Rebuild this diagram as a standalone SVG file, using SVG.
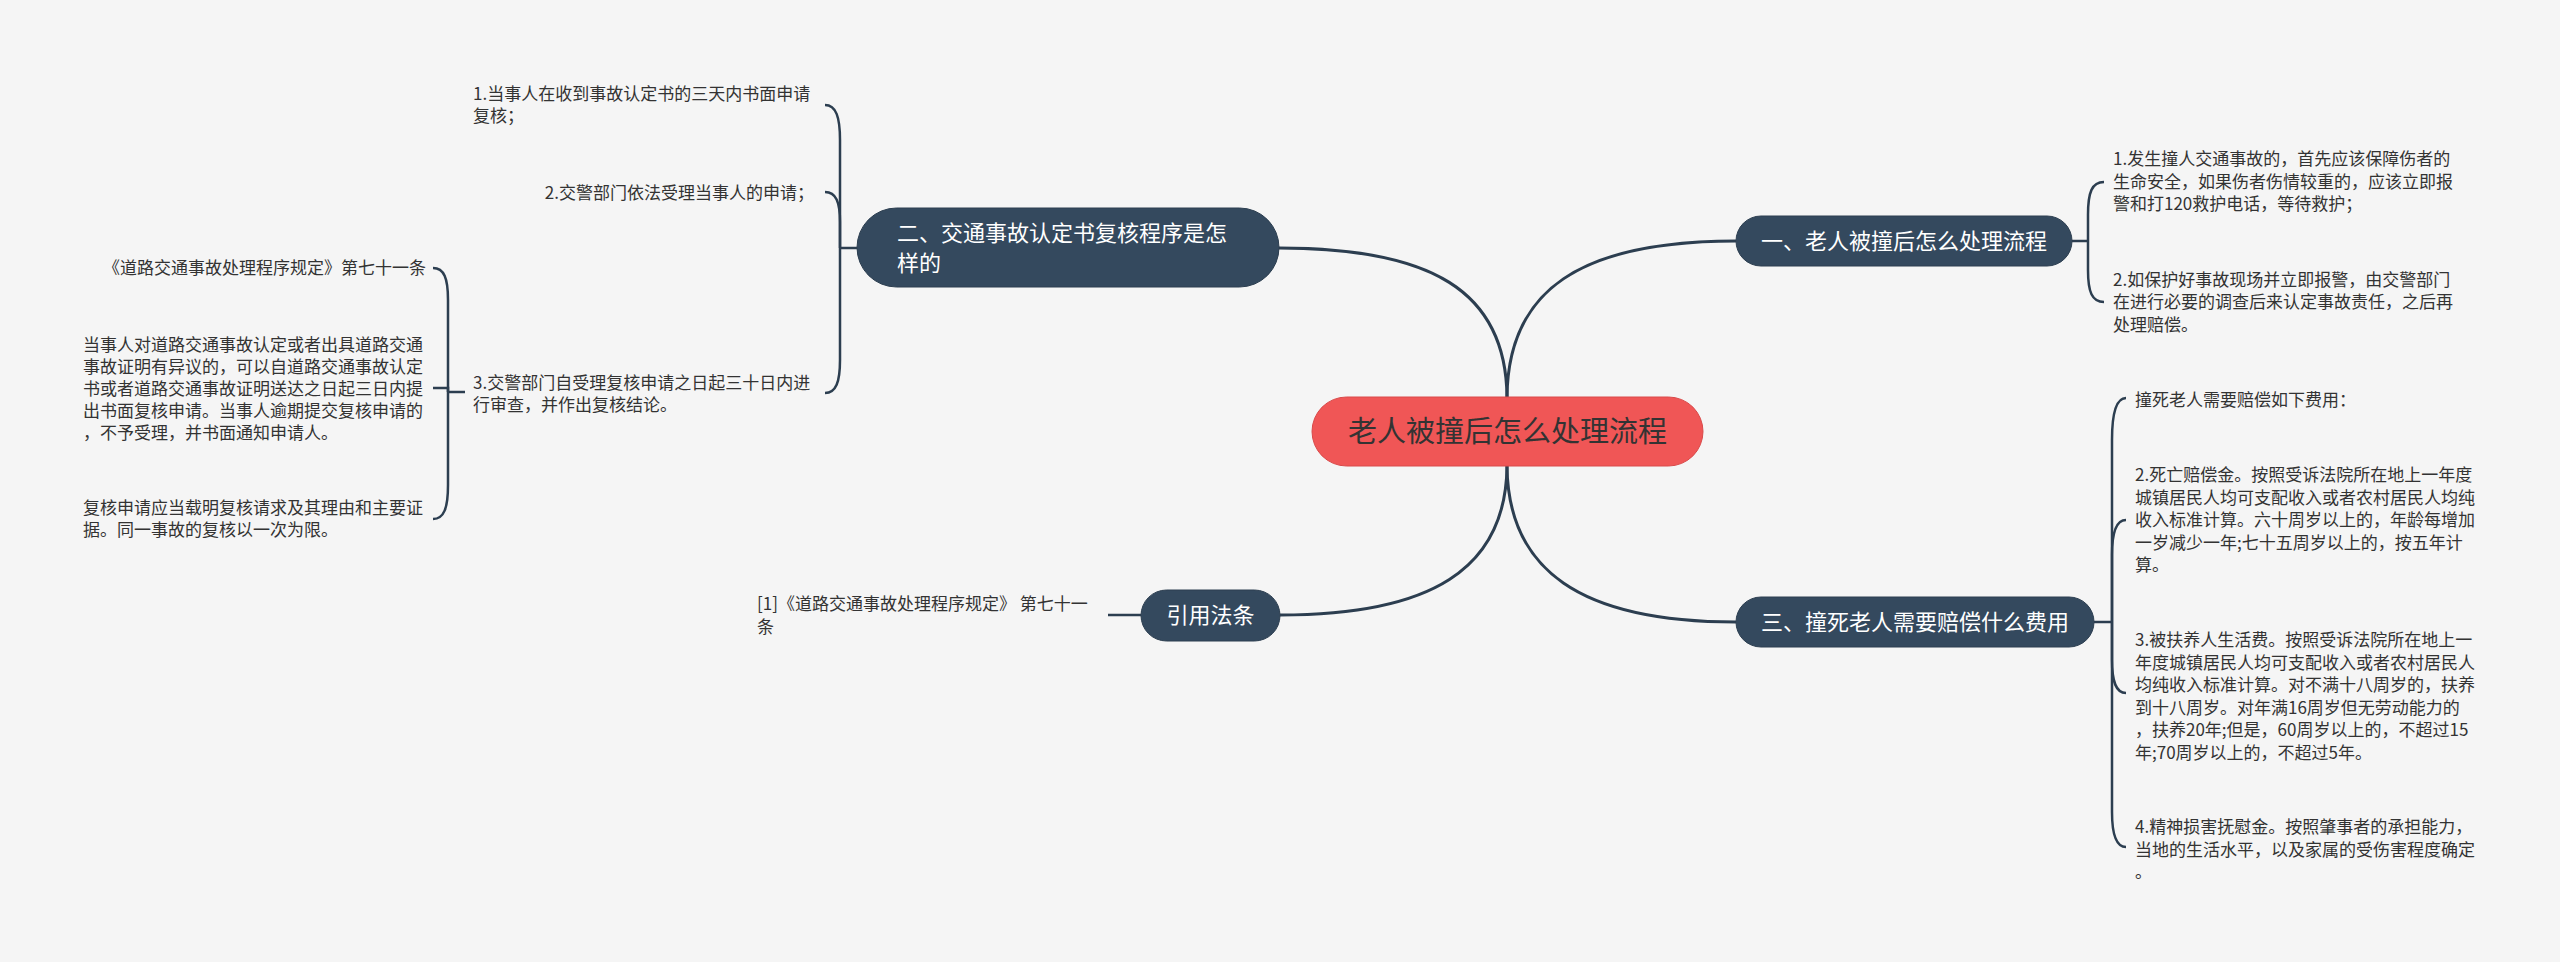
<svg xmlns="http://www.w3.org/2000/svg" width="2560" height="962" viewBox="0 0 2560 962">
<style>
text{font-family:"Noto Sans CJK SC","Noto Sans",sans-serif;}
.leaf{font-size:17px;fill:#333333;}
.topic{font-size:22px;fill:#ffffff;}
.topicbox{fill:#34495e;stroke:#2c3e50;stroke-width:1;}
.root{fill:#f05656;stroke:#d94a4a;stroke-width:1;}
.roottext{font-size:29px;fill:#333333;}
.main{fill:none;stroke:#2c3e50;stroke-width:3;}
.br{fill:none;stroke:#2c3e50;stroke-width:2.5;}
</style>
<rect x="0" y="0" width="2560" height="962" fill="#f5f5f5"/>

<g id="connectors">
  <path class="main" d="M1507,397 C1508,290 1580,241 1736,241"/>
  <path class="main" d="M1507,397 C1506,290 1430,248 1279,248"/>
  <path class="main" d="M1507,466 C1508,570 1580,622 1736,622"/>
  <path class="main" d="M1507,466 C1506,570 1430,615 1280,615"/>
  <!-- node 1 bracket -->
  <path class="br" d="M2072,241 H2088"/>
  <path class="br" d="M2088,241 V215 C2088,192 2092,182 2104,182"/>
  <path class="br" d="M2088,241 V270 C2088,292 2092,302 2104,302"/>
  <!-- node 3 bracket -->
  <path class="br" d="M2094,622 H2112"/>
  <path class="br" d="M2112,622 V440 C2112,415 2116,398 2126,398"/>
  <path class="br" d="M2112,622 V555 C2112,532 2116,520 2126,520"/>
  <path class="br" d="M2112,622 V660 C2112,682 2116,693 2126,693"/>
  <path class="br" d="M2112,622 V812 C2112,835 2116,847 2126,847"/>
  <!-- node 2 bracket -->
  <path class="br" d="M857,248 H840"/>
  <path class="br" d="M840,248 V140 C840,117 836,105 825,105"/>
  <path class="br" d="M840,248 V222 C840,202 836,192 825,192"/>
  <path class="br" d="M840,248 V360 C840,382 836,393 825,393"/>
  <!-- child 3 of node 2 bracket -->
  <path class="br" d="M465,392 H448"/>
  <path class="br" d="M448,392 V300 C448,278 444,268 433,268"/>
  <path class="br" d="M448,392 V388 H433"/>
  <path class="br" d="M448,392 V485 C448,508 444,519 433,519"/>
  <!-- citation -->
  <path class="br" d="M1141,615 H1108"/>
</g>

<g id="root">
  <rect class="root" x="1312" y="397" width="391" height="69" rx="34.5"/>
  <text class="roottext" x="1507.5" y="442" text-anchor="middle">老人被撞后怎么处理流程</text>
</g>

<g id="node1">
  <rect class="topicbox" x="1736" y="216" width="336" height="50" rx="25"/>
  <text class="topic" x="1904" y="249" text-anchor="middle">一、老人被撞后怎么处理流程</text>
</g>
<g id="node1-c1">
  <text class="leaf" x="2113" y="165">1.发生撞人交通事故的，首先应该保障伤者的</text>
  <text class="leaf" x="2113" y="187.5">生命安全，如果伤者伤情较重的，应该立即报</text>
  <text class="leaf" x="2113" y="210">警和打120救护电话，等待救护；</text>
</g>
<g id="node1-c2">
  <text class="leaf" x="2113" y="285.5">2.如保护好事故现场并立即报警，由交警部门</text>
  <text class="leaf" x="2113" y="308">在进行必要的调查后来认定事故责任，之后再</text>
  <text class="leaf" x="2113" y="330.5">处理赔偿。</text>
</g>

<g id="node3">
  <rect class="topicbox" x="1736" y="597" width="358" height="50" rx="25"/>
  <text class="topic" x="1915" y="630" text-anchor="middle">三、撞死老人需要赔偿什么费用</text>
</g>
<g id="node3-c1">
  <text class="leaf" x="2135" y="406">撞死老人需要赔偿如下费用：</text>
</g>
<g id="node3-c2">
  <text class="leaf" x="2135" y="481">2.死亡赔偿金。按照受诉法院所在地上一年度</text>
  <text class="leaf" x="2135" y="503.5">城镇居民人均可支配收入或者农村居民人均纯</text>
  <text class="leaf" x="2135" y="526">收入标准计算。六十周岁以上的，年龄每增加</text>
  <text class="leaf" x="2135" y="548.5">一岁减少一年;七十五周岁以上的，按五年计</text>
  <text class="leaf" x="2135" y="571">算。</text>
</g>
<g id="node3-c3">
  <text class="leaf" x="2135" y="646">3.被扶养人生活费。按照受诉法院所在地上一</text>
  <text class="leaf" x="2135" y="668.5">年度城镇居民人均可支配收入或者农村居民人</text>
  <text class="leaf" x="2135" y="691">均纯收入标准计算。对不满十八周岁的，扶养</text>
  <text class="leaf" x="2135" y="713.5">到十八周岁。对年满16周岁但无劳动能力的</text>
  <text class="leaf" x="2135" y="736">，扶养20年;但是，60周岁以上的，不超过15</text>
  <text class="leaf" x="2135" y="758.5">年;70周岁以上的，不超过5年。</text>
</g>
<g id="node3-c4">
  <text class="leaf" x="2135" y="833">4.精神损害抚慰金。按照肇事者的承担能力，</text>
  <text class="leaf" x="2135" y="855.5">当地的生活水平，以及家属的受伤害程度确定</text>
  <text class="leaf" x="2135" y="878">。</text>
</g>

<g id="node2">
  <rect class="topicbox" x="857" y="208" width="422" height="79" rx="39.5"/>
  <text class="topic" x="897" y="241">二、交通事故认定书复核程序是怎</text>
  <text class="topic" x="897" y="271">样的</text>
</g>
<g id="node2-c1">
  <text class="leaf" x="473" y="100">1.当事人在收到事故认定书的三天内书面申请</text>
  <text class="leaf" x="473" y="122">复核；</text>
</g>
<g id="node2-c2">
  <text class="leaf" x="814" y="199" text-anchor="end">2.交警部门依法受理当事人的申请；</text>
</g>
<g id="node2-c3">
  <text class="leaf" x="473" y="389">3.交警部门自受理复核申请之日起三十日内进</text>
  <text class="leaf" x="473" y="411">行审查，并作出复核结论。</text>
</g>
<g id="law-c1">
  <text class="leaf" x="426" y="274" text-anchor="end">《道路交通事故处理程序规定》第七十一条</text>
</g>
<g id="law-c2">
  <text class="leaf" x="83" y="351">当事人对道路交通事故认定或者出具道路交通</text>
  <text class="leaf" x="83" y="373">事故证明有异议的，可以自道路交通事故认定</text>
  <text class="leaf" x="83" y="395">书或者道路交通事故证明送达之日起三日内提</text>
  <text class="leaf" x="83" y="417">出书面复核申请。当事人逾期提交复核申请的</text>
  <text class="leaf" x="83" y="439">，不予受理，并书面通知申请人。</text>
</g>
<g id="law-c3">
  <text class="leaf" x="83" y="514">复核申请应当载明复核请求及其理由和主要证</text>
  <text class="leaf" x="83" y="536">据。同一事故的复核以一次为限。</text>
</g>

<g id="node4">
  <rect class="topicbox" x="1141" y="590" width="139" height="51" rx="25.5"/>
  <text class="topic" x="1210.5" y="623" text-anchor="middle">引用法条</text>
</g>
<g id="node4-c1">
  <text class="leaf" x="757" y="610">[1]《道路交通事故处理程序规定》 第七十一</text>
  <text class="leaf" x="757" y="633">条</text>
</g>
</svg>
